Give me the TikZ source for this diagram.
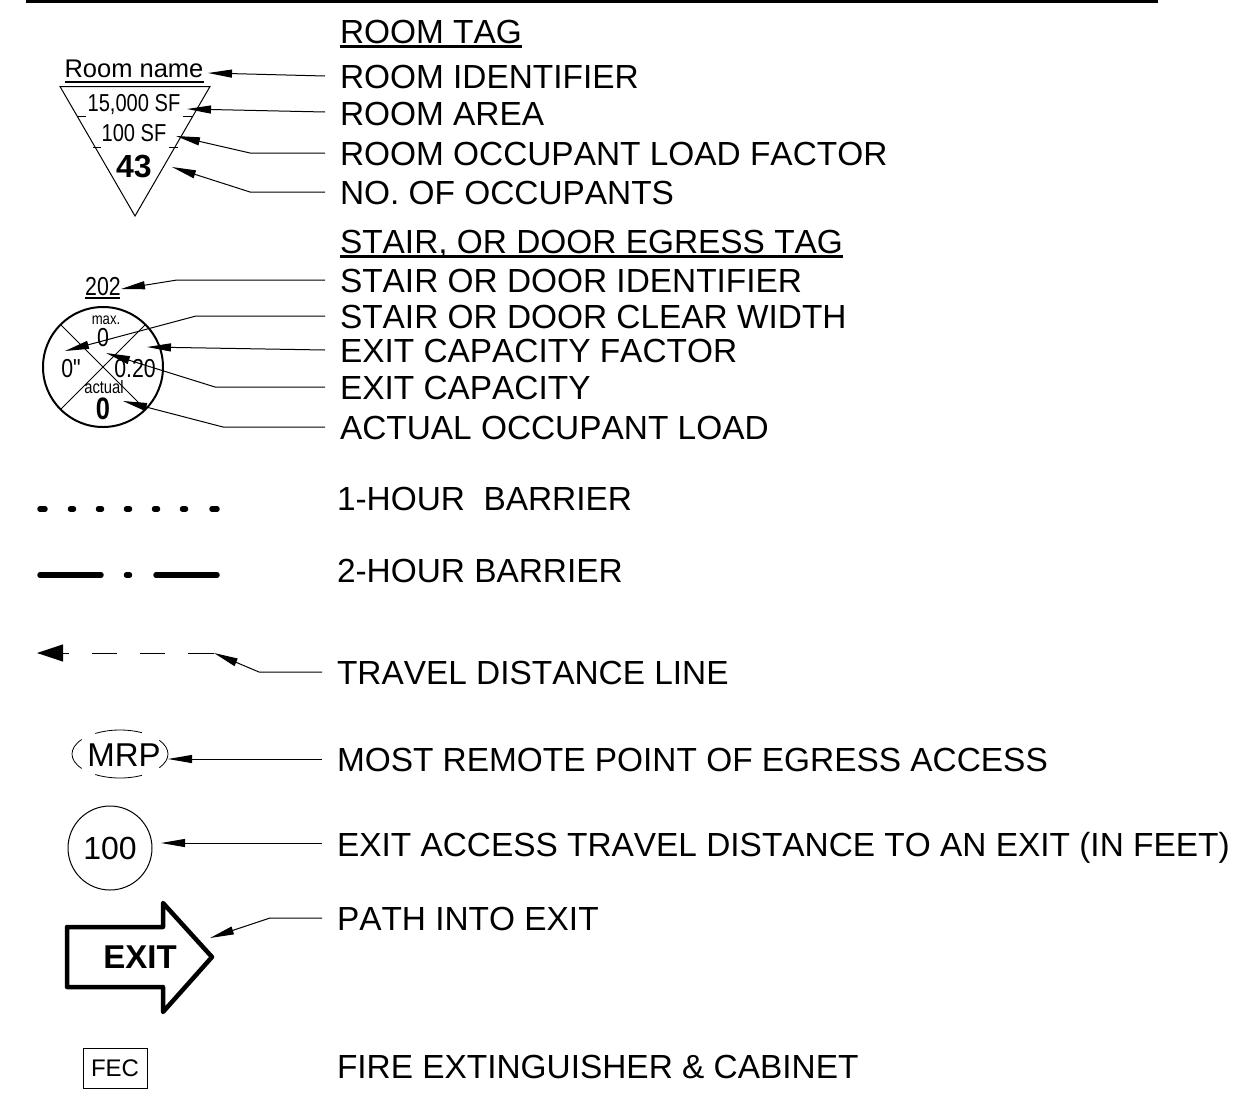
\documentclass[tikz,border=0pt]{standalone}
\usepackage{fontspec}
\setmainfont{Liberation Sans}
\newfontfamily\narrowf[FakeStretch=0.82]{Liberation Sans}
\newfontfamily\labf[Kerning=Off]{Liberation Sans}
\usetikzlibrary{arrows.meta}
\newcommand{\fs}[1]{\fontsize{#1}{#1}\selectfont}
\tikzset{
  every node/.style={inner sep=0pt,outer sep=0pt},
  lab/.style={anchor=west,text height=24pt,text depth=0pt,font=\labf\fs{33.4}},
  lead/.style={line width=1pt,-{Triangle[length=24pt,width=8pt]}},
  thinl/.style={line width=1pt},
  barrier/.style={line width=5.5pt,line cap=round},
  under/.style={line width=2.2pt},
  nar/.style={font=\narrowf\fs{#1},text depth=0pt,text height=0.72*#1 pt},
  narb/.style={font=\narrowf\bfseries\fs{#1},text depth=0pt,text height=0.72*#1 pt},
  reg/.style={font=\fs{#1},text depth=0pt,text height=0.72*#1 pt},
  regb/.style={font=\bfseries\fs{#1},text depth=0pt,text height=0.72*#1 pt}
}
\begin{document}
\begin{tikzpicture}[x=1pt,y=-1pt]
\useasboundingbox (0,0) rectangle (1242,1101);
\draw[line width=2.6pt] (26,1.2) -- (1158,1.2);

% Labels
\node[lab] (h1) at (340,31) {ROOM TAG};
\node[lab] (l1) at (340,76) {ROOM IDENTIFIER};
\node[lab] (l2) at (340,113) {ROOM AREA};
\node[lab] (l3) at (340,153) {ROOM OCCUPANT LOAD FACTOR};
\node[lab] (l4) at (340,192) {NO. OF OCCUPANTS};
\node[lab] (h2) at (340,241) {STAIR, OR DOOR EGRESS TAG};
\node[lab] (l5) at (340,280) {STAIR OR DOOR IDENTIFIER};
\node[lab] (l6) at (340,316) {STAIR OR DOOR CLEAR WIDTH};
\node[lab] (l7) at (340,350) {EXIT CAPACITY FACTOR};
\node[lab] (l8) at (340,387) {EXIT CAPACITY};
\node[lab] (l9) at (340,427) {ACTUAL OCCUPANT LOAD};
\node[lab] (b1) at (337,498) {1-HOUR\ \ BARRIER};
\node[lab] (b2) at (337,570) {2-HOUR BARRIER};
\node[lab] (l10) at (337,672) {TRAVEL DISTANCE LINE};
\node[lab] (l11) at (337,759) {MOST REMOTE POINT OF EGRESS ACCESS};
\node[lab] (l12) at (337,844) {EXIT ACCESS TRAVEL DISTANCE TO AN EXIT (IN FEET)};
\node[lab] (l13) at (337,918) {PATH INTO EXIT};
\node[lab] (l14) at (337,1066) {FIRE EXTINGUISHER \& CABINET};
\draw[under] ([yshift=-3.5]h1.south west) -- ([yshift=-3.5]h1.south east);
\draw[under] ([yshift=-3.5]h2.south west) -- ([yshift=-3.5]h2.south east);

% Room tag
\node[font=\fs{25.5},anchor=base] (rn) at (134,77.5) {Room name};
\draw[under] (65,82) -- (204,82);
\draw[thinl] (60,86.5) -- (210,86.5) -- (135,216) -- cycle;
\draw[thinl] (78,116) -- (86,116) (183,116) -- (193,116) (93,147) -- (101,147) (169,147) -- (178,147);
\node[nar=24.5] (r1) at (134,102.5) {15,000 SF};
\node[nar=24.5] (r2) at (134,133) {100 SF};
\node[regb=32] (r3) at (134,166) {43};

\coordinate (t1) at (208,73);
\coordinate (t2) at (187,109);
\coordinate (e3) at (250,153);
\coordinate (t3) at (176,136);
\coordinate (e4) at (250,192);
\coordinate (t4) at (172,167);
\draw[lead] (l1.west) ++(-15,0) -- (t1);
\draw[lead] (l2.west) ++(-15,-1) -- (t2);
\draw[lead] (l3.west) ++(-15,0) -- (e3) -- (t3);
\draw[lead] (l4.west) ++(-15,0) -- (e4) -- (t4);

% Egress tag
\node[nar=26] (s0) at (103,286) {202};
\draw[under] (85,298) -- (120,298);
\node[draw,circle,line width=2pt,minimum size=120pt] (c1) at (103,367) {};
\draw[thinl] (c1.45) -- (c1.225) (c1.135) -- (c1.315);
\node[nar=16] (s1) at (106,318.5) {max.};
\node[nar=26] (s2) at (103,337) {0};
\node[nar=26] (s3) at (71,368) {0"};
\node[nar=26] (s4) at (135,368) {0.20};
\node[nar=18] (s5) at (104,387) {actual};
\node[narb=31] (s6) at (103,408) {0};

\coordinate (e5) at (177,280);
\coordinate (t5) at (121,289);
\coordinate (e6) at (196,316);
\coordinate (t6) at (65,351);
\coordinate (t7) at (147,347);
\coordinate (e8) at (215,387);
\coordinate (t8) at (106,353);
\coordinate (e9) at (223,427);
\coordinate (t9) at (123,401);
\draw[lead] (l5.west) ++(-15,0) -- (e5) -- (t5);
\draw[lead] (l6.west) ++(-15,0) -- (e6) -- (t6);
\draw[lead] (l7.west) ++(-15,0) -- (t7);
\draw[lead] (l8.west) ++(-15,0) -- (e8) -- (t8);
\draw[lead] (l9.west) ++(-15,0) -- (e9) -- (t9);

% Barriers
\draw[barrier] (40,509) -- (45,509) (70.5,509) -- (73.5,509) (98.5,509) -- (101.5,509) (126.5,509) -- (129.5,509) (154.5,509) -- (157.5,509) (182.5,509) -- (185.5,509) (212,509) -- (217,509);
\draw[barrier] (40,575) -- (101,575) (126.5,575) -- (129.5,575) (156,575) -- (217,575);

% Travel distance line
\coordinate (tr0) at (214,653);
\coordinate (tr1) at (37,653);
\draw[-{Triangle[length=26pt,width=17pt]},line width=1pt] (69,653) -- (tr1);
\draw[thinl] (92,653) -- (117,653) (140,653) -- (165,653) (188,653) -- (tr0);
\coordinate (e10) at (259,672);
\draw[lead] (l10.west) ++(-15,0) -- (e10) -- (tr0);

% MRP
\node[reg=33] (mrp) at (124,755) {MRP};
\coordinate (mc) at (120,754);
\draw[line width=0.8pt] (mc) ++(121:48 and 24) arc[start angle=121,end angle=63,x radius=48,y radius=24];
\draw[line width=0.8pt] (mc) ++(-121:48 and 24) arc[start angle=-121,end angle=-63,x radius=48,y radius=24];
\draw[line width=0.8pt] (mc) ++(143:48 and 24) arc[start angle=143,end angle=217,x radius=48,y radius=24];
\draw[line width=0.8pt] (mc) ++(-35:48 and 24) arc[start angle=-35,end angle=35,x radius=48,y radius=24];
\coordinate (t11) at (168,759);
\draw[lead] (l11.west) ++(-15,0) -- (t11);

% Circle 100
\node[draw,circle,line width=1pt,minimum size=84pt,reg=32] (c100) at (110,848) {100};
\coordinate (t12) at (161,843);
\draw[lead] (l12.west) ++(-15,-1) -- (t12);

% EXIT arrow
\draw[line width=4.5pt,line join=round] (67,927) -- (163,927) -- (163,903) -- (212,957) -- (163,1012) -- (163,987) -- (67,987) -- cycle;
\node[regb=33] (ex) at (140,957) {EXIT};
\coordinate (e13) at (270,918);
\coordinate (t13) at (210,938);
\draw[lead] (l13.west) ++(-15,0) -- (e13) -- (t13);

% FEC
\node[draw,line width=1pt,minimum width=64pt,minimum height=40pt,reg=24] (fec) at (115,1068) {FEC};
\end{tikzpicture}
\end{document}
